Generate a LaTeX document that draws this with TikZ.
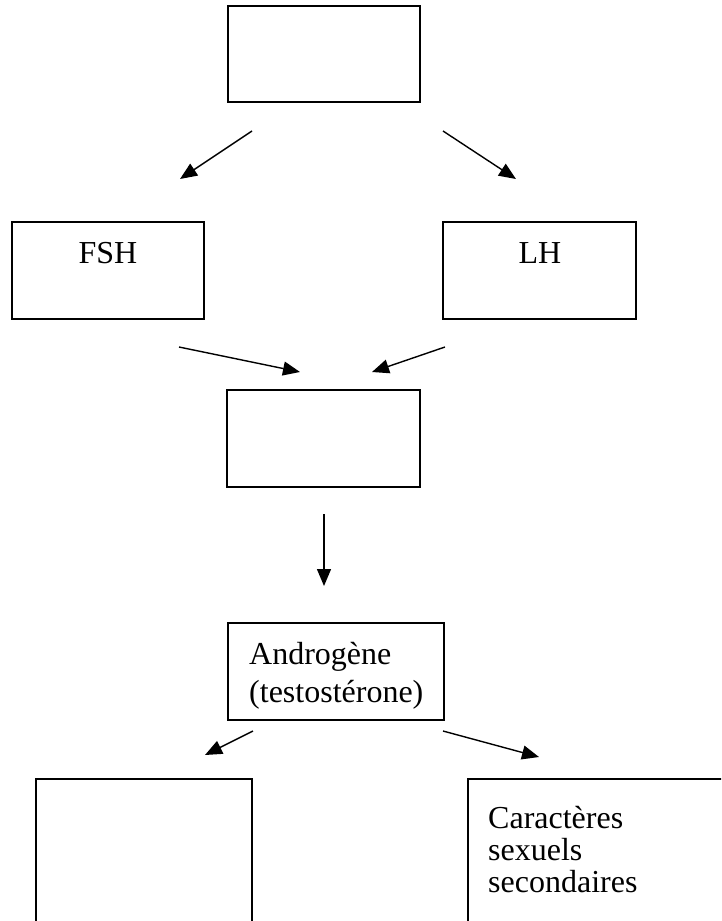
\documentclass[tikz,border=0pt]{standalone}
\usepackage{fontspec}
\setmainfont{Liberation Serif}
\usetikzlibrary{arrows.meta}
\begin{document}
\begin{tikzpicture}[x=1pt,y=-1pt,
  box/.style={draw, line width=1.5pt, rectangle, inner sep=0pt},
  lbl/.style={font=\fontsize{32}{38}\selectfont, inner sep=0pt},
  arr/.style={-{Triangle[length=17pt,width=14pt]}, line width=1.4pt}]
\clip (0,0) rectangle (721,921);
\fill[white] (0,0) rectangle (721,921);
% boxes
\node[box, minimum width=192pt, minimum height=96pt] (top) at (324,54) {};
\node[box, minimum width=192pt, minimum height=97pt] (fsh) at (108,270.5) {};
\node[box, minimum width=193pt, minimum height=97pt] (lh) at (539.5,270.5) {};
\node[box, minimum width=193pt, minimum height=97pt] (mid) at (323.5,438.5) {};
\node[box, minimum width=216pt, minimum height=97pt] (andro) at (336,671.5) {};
\node[box, minimum width=216pt, minimum height=161pt] (bl) at (144,859.5) {};
\node[box, minimum width=272pt, minimum height=161pt] (br) at (604,859.5) {};
% texts
\node[lbl, anchor=base] (fsht) at (108,263) {FSH};
\node[lbl, anchor=base] (lht) at (540,263) {LH};
\node[lbl, anchor=base west] (andt1) at (249,664) {Androgène};
\node[lbl, anchor=base west] (andt2) at (249,702) {(testostérone)};
\node[lbl, anchor=base west] (car1) at (488,828) {Caractères};
\node[lbl, anchor=base west] (car2) at (488,860) {sexuels};
\node[lbl, anchor=base west] (car3) at (488,892) {secondaires};
% arrow end points
\coordinate (a1s) at (252,131); \coordinate (a1e) at (180,179);
\coordinate (a2s) at (443,131); \coordinate (a2e) at (516,179);
\coordinate (a3s) at (179,347); \coordinate (a3e) at (300,372);
\coordinate (a4s) at (445,347); \coordinate (a4e) at (372,372);
\coordinate (a5s) at (324,514); \coordinate (a5e) at (324,586);
\coordinate (a6s) at (253,731); \coordinate (a6e) at (205,755);
\coordinate (a7s) at (443,731); \coordinate (a7e) at (539,757);
\draw[arr] (a1s) -- (a1e);
\draw[arr] (a2s) -- (a2e);
\draw[arr] (a3s) -- (a3e);
\draw[arr] (a4s) -- (a4e);
\draw[arr] (a5s) -- (a5e);
\draw[arr] (a6s) -- (a6e);
\draw[arr] (a7s) -- (a7e);
\end{tikzpicture}
\end{document}
